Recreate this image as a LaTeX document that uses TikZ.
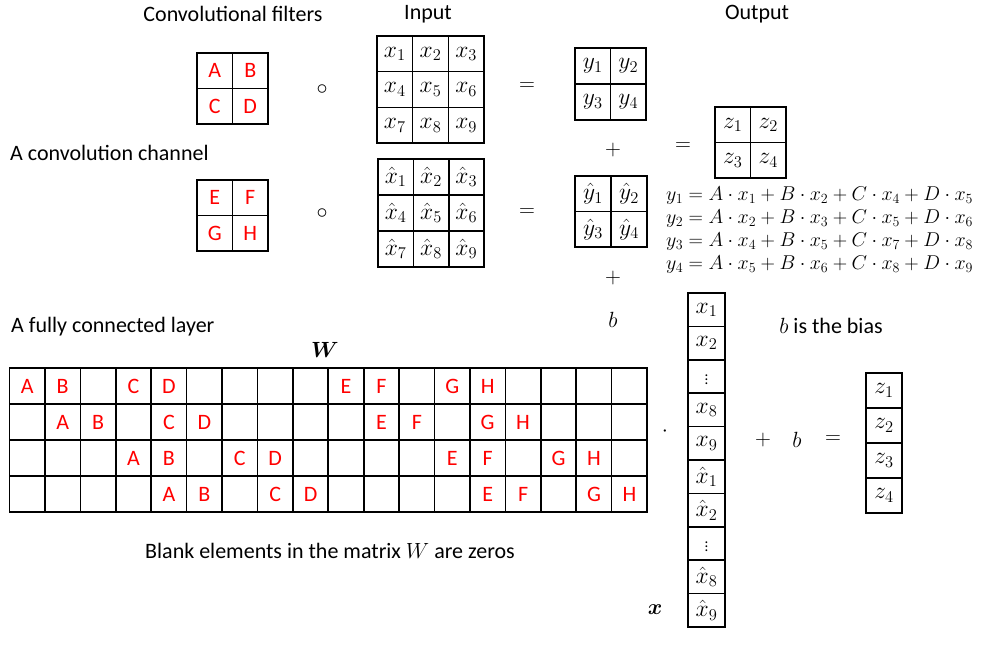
\RequirePackage{fix-cm}
\documentclass[tikz,border=0pt]{standalone}
\usepackage{fontspec}
\setmainfont{Carlito}
\usepackage{bm}
\begin{document}
\begin{tikzpicture}[x=1pt,y=-1pt,
  cell/.style={draw, line width=1.6pt, inner sep=0pt, minimum width=35.5pt, minimum height=35.5pt, font=\fontsize{22}{26}\selectfont},
  mcell/.style={cell, font=\fontsize{23.5}{26}\selectfont},
  redtxt/.style={text=red},
  lbl/.style={inner sep=0pt, font=\fontsize{22}{26}\selectfont},
  eq/.style={inner sep=0pt, anchor=west, font=\fontsize{20}{23}\selectfont}]
\useasboundingbox (0,0) rectangle (981,649);
\newcommand{\mydots}{{\fontsize{15}{15}\selectfont$\vdots$}}
% titles
\node[lbl] (t1) at (233,14) {Convolutional filters};
\node[lbl] (t2) at (428,14) {Input};
\node[lbl] (t3) at (757,14) {Output};
\node[lbl, anchor=west] (t4) at (10,153) {A convolution channel};
\node[lbl, anchor=west] (t5) at (11,327) {A fully connected layer};
% filters
\node[cell, redtxt] (fA) at (214.75,70.75) {A};
\node[cell, redtxt] (fB) at (250.25,70.75) {B};
\node[cell, redtxt] (fC) at (214.75,106.25) {C};
\node[cell, redtxt] (fD) at (250.25,106.25) {D};
\node[cell, redtxt] (fE) at (214.75,197.75) {E};
\node[cell, redtxt] (fF) at (250.25,197.75) {F};
\node[cell, redtxt] (fG) at (214.75,233.25) {G};
\node[cell, redtxt] (fH) at (250.25,233.25) {H};
% operators
\node[lbl] (o1) at (322,90) {$\circ$};
\node[lbl] (o2) at (322,214) {$\circ$};
\node[lbl] (e1) at (527,87) {$=$};
\node[lbl] (e2) at (527,213) {$=$};
\node[lbl] (e3) at (683,147) {$=$};
\node[lbl] (p1) at (613,150) {$+$};
\node[lbl] (p2) at (613,278) {$+$};
\node[lbl] (bb) at (613,320) {$b$};
% input 1
\foreach \i/\xx in {1/394.8,2/430.5,3/466.2}{
  \foreach \j/\yy in {1/53.8,2/89.5,3/125.2}{
    \pgfmathtruncatemacro{\k}{(\j-1)*3+\i}
    \node[mcell, minimum width=35.7pt, minimum height=35.7pt] (in-\k) at (\xx,\yy) {$x_{\k}$};
  }
}
% input 2
\foreach \i/\xx in {1/395.7,2/431,3/466.3}{
  \foreach \j/\yy in {1/177,2/213,3/249}{
    \pgfmathtruncatemacro{\k}{(\j-1)*3+\i}
    \node[mcell, minimum width=35.4pt, minimum height=36pt] (ih-\k) at (\xx,\yy) {$\hat{x}_{\k}$};
  }
}
% outputs y
\node[mcell, minimum height=36pt] (y1) at (592.75,66) {$y_1$};
\node[mcell, minimum height=36pt] (y2) at (628.25,66) {$y_2$};
\node[mcell, minimum height=36pt] (y3) at (592.75,102) {$y_3$};
\node[mcell, minimum height=36pt] (y4) at (628.25,102) {$y_4$};
\node[mcell, minimum width=36pt] (yh1) at (593,193.75) {$\hat{y}_1$};
\node[mcell, minimum width=36pt] (yh2) at (629,193.75) {$\hat{y}_2$};
\node[mcell, minimum width=36pt] (yh3) at (593,229.25) {$\hat{y}_3$};
\node[mcell, minimum width=36pt] (yh4) at (629,229.25) {$\hat{y}_4$};
% z
\node[mcell] (z1) at (732.75,124.75) {$z_1$};
\node[mcell] (z2) at (768.25,124.75) {$z_2$};
\node[mcell] (z3) at (732.75,160.25) {$z_3$};
\node[mcell] (z4) at (768.25,160.25) {$z_4$};
% equations
\node[eq] (q1) at (666,196) {$y_1 = A\cdot x_1 + B\cdot x_2 + C\cdot x_4 + D\cdot x_5$};
\node[eq] (q2) at (666,219) {$y_2 = A\cdot x_2 + B\cdot x_3 + C\cdot x_5 + D\cdot x_6$};
\node[eq] (q3) at (666,242) {$y_3 = A\cdot x_4 + B\cdot x_5 + C\cdot x_7 + D\cdot x_8$};
\node[eq] (q4) at (666,265) {$y_4 = A\cdot x_5 + B\cdot x_6 + C\cdot x_8 + D\cdot x_9$};
% W matrix
\node[lbl] (Wl) at (325,350) {$\bm{W}$};
\foreach \r in {1,...,4}{
  \foreach \c in {1,...,18}{
    \node[cell, minimum width=35.42pt, minimum height=36pt] (w-\r-\c) at ({9.5+35.42*(\c-0.5)},{368+36*(\r-0.5)}) {};
  }
}
\foreach \r/\c/\t in {1/1/A,1/2/B,1/4/C,1/5/D,1/10/E,1/11/F,1/13/G,1/14/H,
  2/2/A,2/3/B,2/5/C,2/6/D,2/11/E,2/12/F,2/14/G,2/15/H,
  3/4/A,3/5/B,3/7/C,3/8/D,3/13/E,3/14/F,3/16/G,3/17/H,
  4/5/A,4/6/B,4/8/C,4/9/D,4/14/E,4/15/F,4/17/G,4/18/H}{
  \node[lbl, redtxt] (l-\r-\c) at (w-\r-\c) {\t};
}
\node[lbl] (cdot) at (665,432) {$\cdot$};
% x column
\foreach \k/\t in {1/{$x_1$},2/{$x_2$},3/{\mydots},4/{$x_8$},5/{$x_9$},6/{$\hat{x}_1$},7/{$\hat{x}_2$},8/{\mydots},9/{$\hat{x}_8$},10/{$\hat{x}_9$}}{
  \node[mcell, minimum width=37pt, minimum height=33.4pt] (xc-\k) at (706.5,{293+33.4*(\k-0.5)}) {\t};
}
\node[lbl] (xb) at (655,610) {$\bm{x}$};
\node[lbl] (p3) at (763,440) {$+$};
\node[lbl] (b2) at (797,440) {$b$};
\node[lbl] (e4) at (833,440) {$=$};
\node[lbl] (bias) at (831,326) {$b$ is the bias};
% z column
\foreach \k in {1,...,4}{
  \node[mcell, minimum width=36pt, minimum height=35pt] (zc-\k) at (884,{373+35*(\k-0.5)}) {$z_{\k}$};
}
\node[lbl] (blank) at (330,551) {Blank elements in the matrix $W$ are zeros};
\end{tikzpicture}
\end{document}
